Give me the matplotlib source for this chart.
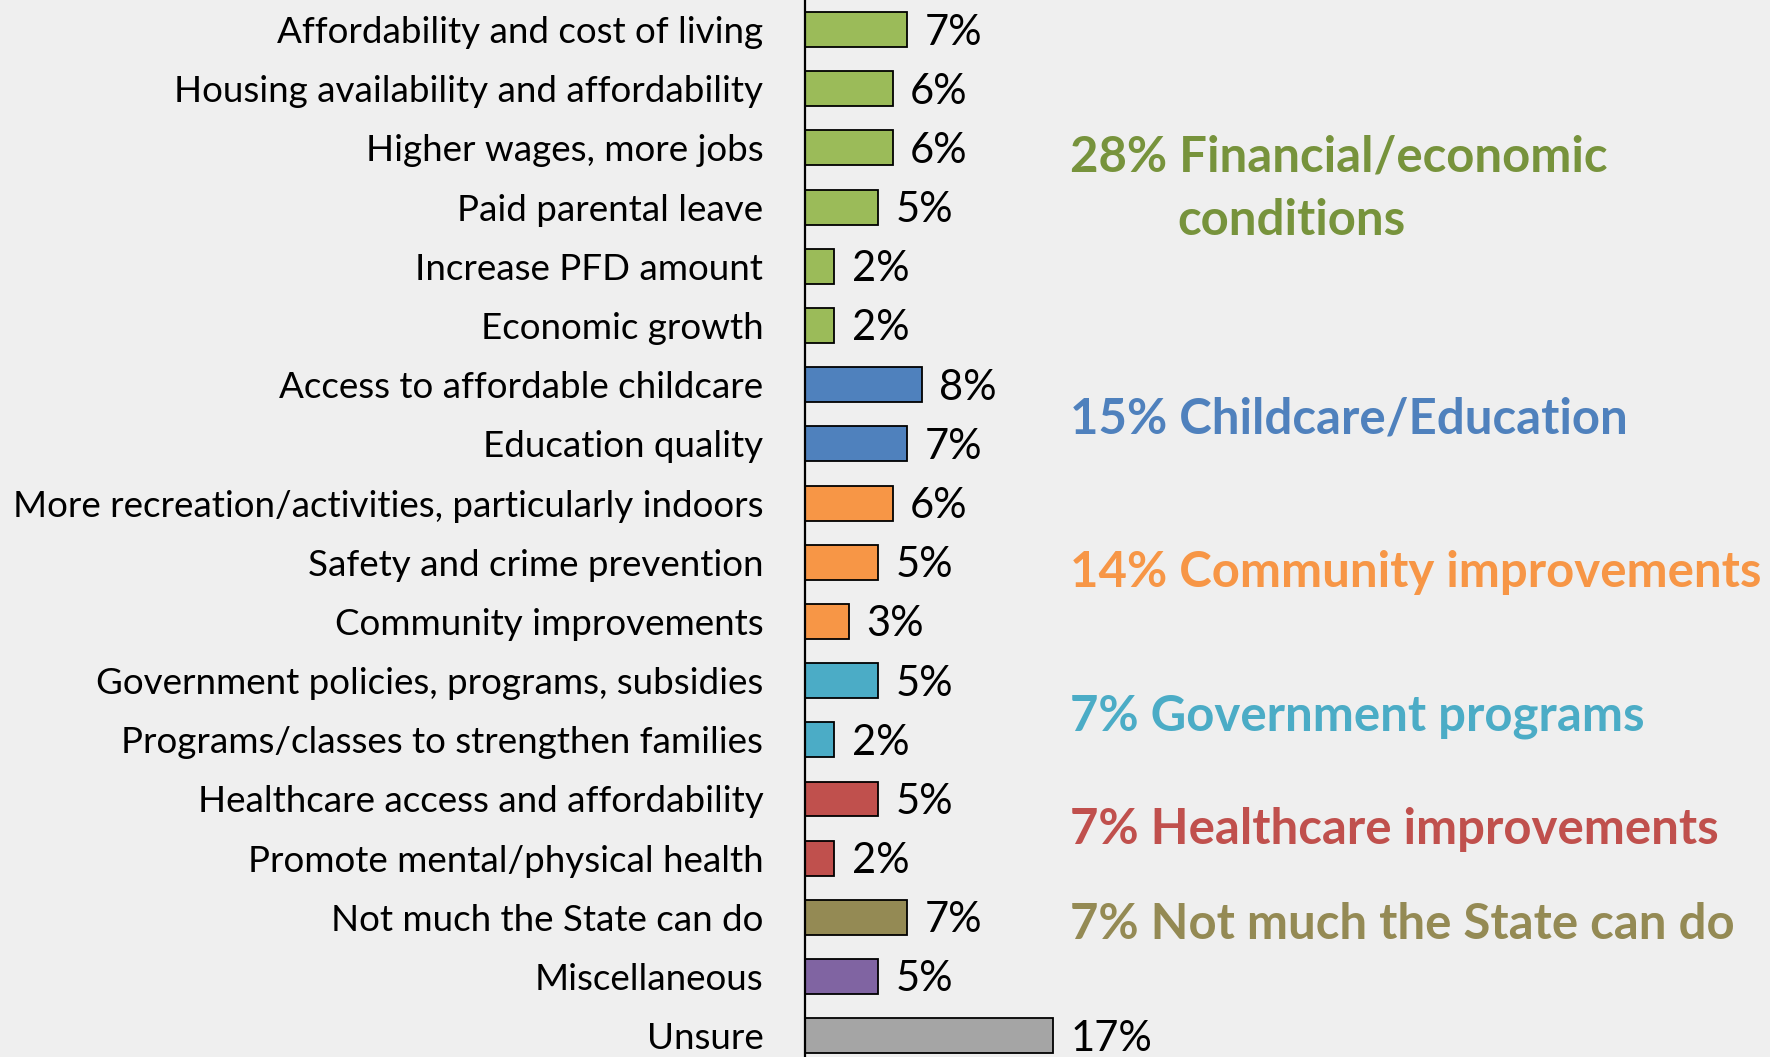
import matplotlib.pyplot as plt

plt.rcParams['font.family'] = ['Lato', 'DejaVu Sans']

categories = [
    'Affordability and cost of living',
    'Housing availability and affordability',
    'Higher wages, more jobs',
    'Paid parental leave',
    'Increase PFD amount',
    'Economic growth',
    'Access to affordable childcare',
    'Education quality',
    'More recreation/activities, particularly indoors',
    'Safety and crime prevention',
    'Community improvements',
    'Government policies, programs, subsidies',
    'Programs/classes to strengthen families',
    'Healthcare access and affordability',
    'Promote mental/physical health',
    'Not much the State can do',
    'Miscellaneous',
    'Unsure',
]
values = [7, 6, 6, 5, 2, 2, 8, 7, 6, 5, 3, 5, 2, 5, 2, 7, 5, 17]
groups = ['fin'] * 6 + ['edu'] * 2 + ['com'] * 3 + ['gov'] * 2 + ['hea'] * 2 + ['not', 'misc', 'uns']

bar_colors = {'fin': '#9BBB59', 'edu': '#4F81BD', 'com': '#F79646', 'gov': '#4BACC6',
              'hea': '#C0504D', 'not': '#948A54', 'misc': '#8064A2', 'uns': '#A5A5A5'}

group_labels = ['28% Financial/economic\nconditions', '15% Childcare/Education',
                '14% Community improvements', '7% Government programs',
                '7% Healthcare improvements', '7% Not much the State can do']
group_label_colors = ['#77933C', '#4F81BD', '#F79646', '#4BACC6', '#C0504D', '#948A54']
group_label_y = [2.16, 6.58, 9.18, 11.61, 13.51, 15.12]

bg = '#EFEFEF'
fig = plt.figure(figsize=(17.7, 10.57), dpi=100, facecolor=bg)
ax = fig.add_axes([805 / 1770, 0, 1 - 805 / 1770, 1])
ax.set_facecolor(bg)

ypos = list(range(len(categories)))
ax.barh(ypos, values, height=0.59, color=[bar_colors[g] for g in groups],
        edgecolor='black', linewidth=1.3)

for y, v in zip(ypos, values):
    ax.text(v + 1.2, y + 0.05, f'{v}%', va='center', ha='left', fontsize=30, color='black')

for lab, c, y in zip(group_labels, group_label_colors, group_label_y):
    lines = lab.split('\n')
    ax.text(18.15, y, lines[0], va='center', ha='left', fontsize=35.4,
            fontweight='bold', color=c)
    # second line of the financial label is indented in the original
    for k, extra in enumerate(lines[1:], start=1):
        ax.text(25.5, y + 1.06 * k, extra, va='center', ha='left', fontsize=35.4,
                fontweight='bold', color=c)

ax.set_xlim(0, 66.1)
ax.set_ylim(17.36, -0.5)
ax.set_yticks(ypos)
ax.set_yticklabels(categories, fontsize=26.5)
ax.tick_params(axis='y', length=0, pad=30)
ax.set_xticks([])
for s in ['top', 'right', 'bottom']:
    ax.spines[s].set_visible(False)
ax.spines['left'].set_linewidth(1.6)

fig.savefig('out.png', dpi=100, facecolor=bg)
